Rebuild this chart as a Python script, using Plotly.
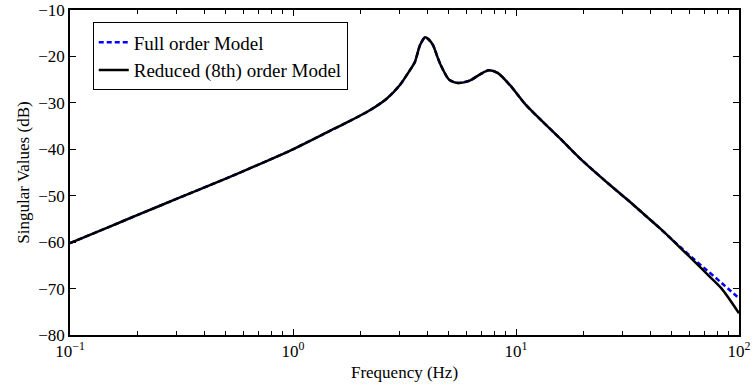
import plotly.graph_objects as go

freq_hz = [0.1, 0.15, 0.2, 0.3, 0.5, 0.7, 1.0, 1.47, 1.8, 2.21, 2.63, 3.01, 3.34,
           3.52, 3.71, 3.91, 4.05, 4.25, 4.45, 4.6, 5.01, 5.5, 6.2,
           6.88, 7.55, 8.3, 9.4, 11.1, 13.2, 15.7, 19.4, 26.4, 32.4, 36.1, 44.4, 49.4,
           55.0, 63.2, 72.0, 83.6, 100.0]
reduced_db = [-60.2, -56.7, -54.2, -50.7, -46.3, -43.3, -40.0, -36.0, -33.9, -31.6,
              -29.1, -26.2, -23.0, -21.2, -17.6, -15.85, -16.3, -17.6,
              -20.2, -21.9, -25.0, -25.7, -25.2, -23.9, -23.0, -23.6, -26.2, -30.5, -34.1,
              -37.6, -42.0, -47.7, -51.3, -53.3, -57.1, -59.2, -61.4, -64.2, -66.9, -70.0,
              -75.3]
full_db = [-60.2, -56.7, -54.2, -50.7, -46.3, -43.3, -40.0, -36.0, -33.9, -31.6,
           -29.1, -26.2, -23.0, -21.2, -17.6, -15.85, -16.3, -17.6,
           -20.2, -21.9, -25.0, -25.7, -25.2, -23.9, -23.0, -23.6, -26.2, -30.5, -34.1,
           -37.6, -42.0, -47.7, -51.3, -53.3, -57.1, -59.2, -61.2, -63.8, -66.1, -68.8,
           -72.1]

x_tickvals = [0.1, 1, 10, 100]
x_ticktext = ["10<sup>\u22121</sup>", "10<sup>0</sup>", "10<sup>1</sup>", "10<sup>2</sup>"]
y_tickvals = [-80, -70, -60, -50, -40, -30, -20, -10]

FONT = "Liberation Serif"

fig = go.Figure()
fig.add_trace(go.Scatter(x=freq_hz, y=full_db, mode="lines", name="Full order Model",
                         line=dict(color="#0000ff", width=2.5, dash="5px,3px",
                                   shape="spline", smoothing=0.7)))
fig.add_trace(go.Scatter(x=freq_hz, y=reduced_db, mode="lines", name="Reduced (8th) order Model",
                         line=dict(color="black", width=2.5, shape="spline", smoothing=0.7)))

axis_common = dict(showgrid=False, zeroline=False, showline=True, linecolor="black",
                   linewidth=1.5, mirror="ticks", ticks="inside", tickcolor="black",
                   ticklen=6, tickwidth=1, automargin=False,
                   tickfont=dict(family=FONT, size=17, color="black"))

fig.update_layout(
    width=752, height=387,
    margin=dict(l=70, r=13, t=10, b=52),
    paper_bgcolor="white", plot_bgcolor="white",
    font=dict(family=FONT, color="black"),
    xaxis=dict(type="log", range=[-1, 2], tickvals=x_tickvals, ticktext=x_ticktext,
               minor=dict(ticks="inside", ticklen=4, tickcolor="black",
                          tickvals=[m * 10 ** e for e in (-1, 0, 1) for m in range(2, 10)]),
               title=dict(text="Frequency (Hz)", font=dict(family=FONT, size=17), standoff=6),
               **axis_common),
    yaxis=dict(range=[-80, -10], tickvals=y_tickvals,
               title=dict(text="Singular Values (dB)", font=dict(family=FONT, size=17), standoff=4),
               **axis_common),
    legend=dict(x=0.034, y=0.962, xanchor="left", yanchor="top",
                bordercolor="black", borderwidth=1, bgcolor="white",
                font=dict(family=FONT, size=19, color="black"),
                tracegroupgap=0, itemwidth=30),
    showlegend=True,
)

fig.write_html("out.html")
